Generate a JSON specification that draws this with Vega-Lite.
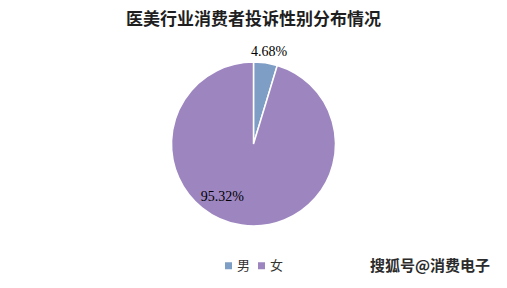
{
  "$schema": "https://vega.github.io/schema/vega-lite/v6.json",
  "width": 507,
  "height": 288,
  "autosize": {"type": "none"},
  "padding": 0,
  "background": "white",
  "title": {
    "text": "医美行业消费者投诉性别分布情况",
    "font": "Noto Sans CJK SC",
    "fontSize": 17,
    "fontWeight": "bold",
    "color": "#1f1f1f",
    "anchor": "middle",
    "frame": "group",
    "offset": -29
  },
  "data": {
    "values": [
      {"性别": "男", "占比": 0.0468},
      {"性别": "女", "占比": 0.9532}
    ]
  },
  "encoding": {
    "theta": {"field": "占比", "type": "quantitative", "stack": true},
    "order": {"field": "占比", "sort": "ascending"}
  },
  "layer": [
    {
      "mark": {"type": "arc", "outerRadius": 82, "stroke": "white", "strokeWidth": 1.5},
      "encoding": {
        "color": {
          "field": "性别",
          "type": "nominal",
          "scale": {"domain": ["男", "女"], "range": ["#7F9EC5", "#9D86C0"]},
          "legend": {
            "orient": "none",
            "legendX": 222,
            "legendY": 259,
            "direction": "horizontal",
            "symbolType": "square",
            "symbolSize": 49,
            "symbolStrokeWidth": 0,
            "labelFont": "Noto Sans CJK SC",
            "labelFontSize": 13,
            "labelColor": "#333333",
            "labelOffset": 2,
            "columnPadding": 4,
            "title": "搜狐号@消费电子",
            "titleOrient": "right",
            "titlePadding": 87,
            "titleFont": "Noto Sans CJK SC",
            "titleFontSize": 15,
            "titleFontWeight": "bold",
            "titleColor": "#2b2b2b"
          }
        }
      }
    },
    {
      "transform": [{"filter": "datum['性别'] == '男'"}],
      "mark": {"type": "text", "radius": 93, "dx": 2, "font": "Liberation Serif", "fontSize": 14, "color": "#000000", "align": "center", "baseline": "middle"},
      "encoding": {"text": {"field": "占比", "type": "quantitative", "format": ".2%"}}
    },
    {
      "transform": [{"filter": "datum['性别'] == '女'"}],
      "mark": {"type": "text", "radius": 60, "dx": -40, "dy": -6, "font": "Liberation Serif", "fontSize": 14, "color": "#000000", "align": "center", "baseline": "middle"},
      "encoding": {"text": {"field": "占比", "type": "quantitative", "format": ".2%"}}
    }
  ]
}
